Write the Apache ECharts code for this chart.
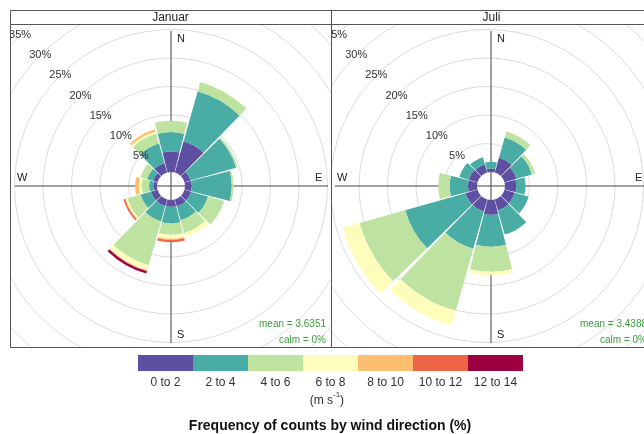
<!DOCTYPE html>
<html><head><meta charset="utf-8">
<script src="https://cdn.jsdelivr.net/npm/echarts@6/dist/echarts.min.js"></script>
<style>html,body{margin:0;padding:0;background:#fff}#c{width:644px;height:434px}</style>
</head><body><div id="c"></div>
<script>
// ---- data ----
const directions = ['N','30','60','E','120','150','S','210','240','W','300','330'];
const speedBins = ['0 to 2','2 to 4','4 to 6','6 to 8','8 to 10','10 to 12','12 to 14'];
const binColors = ['#5E4FA2','#4AADA5','#BEE3A0','#FFFDBC','#FDBF6F','#EE6446','#9E0142'];
const panelTitles = ['Januar','Juli'];
const meanLabels = ['mean = 3.6351','mean = 3.4388'];
const calmLabels = ['calm = 0%','calm = 0%'];
const ringTicks = [5,10,15,20,25,30,35];
const ringLabels = ['5%','10%','15%','20%','25%','30%','35%'];

// January: frequency (%) per direction for each speed class
const jan0to2   = [3.6, 5.7, 1.1, 1.2, 1.2, 1.3, 1.2, 1.2, 1.2, 0.65, 0.8, 1.75];
const jan2to4   = [3.4, 9.1, 8.3, 7.0, 3.1, 2.5, 2.9, 2.8, 1.9, 0.75, 1.1, 3.55];
const jan4to6   = [2.0, 1.7, 0.3, 0.3, 2.9, 2.3, 2.0, 8.0, 2.4, 1.3, 1.2, 1.8];
const jan6to8   = [0, 0.1, 0, 0, 0, 0.7, 0.7, 1.0, 0.3, 0.45, 0, 0.4];
const jan8to10  = [0, 0, 0, 0, 0, 0, 0.2, 0, 0.1, 0.7, 0, 0.4];
const jan10to12 = [0, 0, 0, 0, 0, 0, 0.4, 0.1, 0.3, 0, 0, 0];
const jan12to14 = [0, 0, 0, 0, 0, 0, 0, 0.4, 0, 0, 0, 0];

// Juli
const jul0to2   = [0.6, 2.7, 2.2, 2.0, 1.9, 2.0, 2.6, 2.2, 2.2, 1.6, 1.6, 1.5];
const jul2to4   = [1.2, 3.7, 2.8, 1.6, 2.5, 4.4, 5.6, 6.8, 11.0, 3.2, 1.7, 1.3];
const jul4to6   = [0, 1.1, 0.6, 0, 0, 0, 4.4, 11.3, 8.3, 2.0, 0, 0];
const jul6to8   = [0, 0, 0, 0, 0, 0, 0.6, 2.7, 3.1, 0, 0, 0];
const jul8to10  = [0,0,0,0,0,0,0,0,0,0,0,0];
const jul10to12 = [0,0,0,0,0,0,0,0,0,0,0,0];
const jul12to14 = [0,0,0,0,0,0,0,0,0,0,0,0];

const panelData = [
  [jan0to2, jan2to4, jan4to6, jan6to8, jan8to10, jan10to12, jan12to14],
  [jul0to2, jul2to4, jul4to6, jul6to8, jul8to10, jul10to12, jul12to14]
];

// ---- layout ----
const FONT = '"Liberation Sans", Arial, Helvetica, sans-serif';
const panels = [{cx:171, left:10}, {cx:491, left:331}];
const CY = 186, R_IN = 14, R_OUT = 213.5, R_MAX = 35;
const PW = 321, TOP = 10, STRIP = 24, BOTTOM = 347;

const chart = echarts.init(document.getElementById('c'), null, {renderer:'canvas'});

const polar = panels.map(p => ({center:[p.cx, CY], radius:[R_IN, R_OUT]}));
const angleAxis = panels.map((p,i) => ({
  polarIndex:i, type:'category', data:directions, startAngle:105, clockwise:true,
  boundaryGap:true, axisLine:{show:false}, axisTick:{show:false},
  axisLabel:{show:false}, splitLine:{show:false}
}));
const radiusAxis = panels.map((p,i) => ({
  polarIndex:i, type:'value', min:0, max:R_MAX,
  axisLine:{show:false}, axisTick:{show:false}, axisLabel:{show:false}, splitLine:{show:false}
}));
const grid = panels.map(p => ({left:p.left, top:STRIP, width:PW, height:BOTTOM-STRIP}));
const xAxis = panels.map((p,i) => ({gridIndex:i, type:'value', min:p.left-p.cx, max:p.left+PW-p.cx, show:false}));
const yAxis = panels.map((p,i) => ({gridIndex:i, type:'value', min:-(BOTTOM-CY), max:CY-STRIP, show:false}));

function ringR(v){ return R_IN + (R_OUT-R_IN)*v/R_MAX; }

const series = [];
panels.forEach((p,pi) => {
  series.push({
    type:'custom', xAxisIndex:pi, yAxisIndex:pi, clip:true, z:0, silent:true,
    data: ringTicks.map(v => [v]),
    renderItem:(params, api) => {
      const c = api.coord([0,0]);
      return {type:'circle', shape:{cx:c[0], cy:c[1], r:ringR(api.value(0))},
        style:{fill:null, stroke:'#dcdcdc', lineWidth:1}};
    }
  });
  panelData[pi].forEach((arr,bi) => {
    series.push({
      type:'bar', coordinateSystem:'polar', polarIndex:pi, stack:'p'+pi,
      name:speedBins[bi], data:arr, barCategoryGap:'5%', z:2,
      itemStyle:{color:binColors[bi]}, silent:true
    });
  });
  series.push({
    type:'custom', xAxisIndex:pi, yAxisIndex:pi, clip:true, z:3, silent:true,
    data: ringTicks.map((v,k) => [v,k]),
    renderItem:(params, api) => {
      const c = api.coord([0,0]);
      const r = ringR(api.value(0));
      const d = r*Math.SQRT1_2;
      return {type:'text', style:{x:c[0]-d, y:c[1]-d, text:ringLabels[api.value(1)],
        fill:'#333', font:'11px '+FONT, align:'center', verticalAlign:'middle'}};
    }
  });
});

const graphic = [];
panels.forEach((p,pi) => {
  const cx = p.cx;
  graphic.push({type:'line', z:1, shape:{x1:cx, y1:31, x2:cx, y2:343}, style:{stroke:'#444', lineWidth:1}});
  graphic.push({type:'line', z:1, shape:{x1:cx-156, y1:CY, x2:cx+157, y2:CY}, style:{stroke:'#444', lineWidth:1}});
  const tf = '11px '+FONT;
  graphic.push({type:'text', z:4, style:{x:cx+6, y:39, text:'N', font:tf, fill:'#222', verticalAlign:'middle'}});
  graphic.push({type:'text', z:4, style:{x:cx+144, y:178, text:'E', font:tf, fill:'#222', verticalAlign:'middle'}});
  graphic.push({type:'text', z:4, style:{x:cx+6, y:335, text:'S', font:tf, fill:'#222', verticalAlign:'middle'}});
  graphic.push({type:'text', z:4, style:{x:cx-154, y:178, text:'W', font:tf, fill:'#222', verticalAlign:'middle'}});
  graphic.push({type:'text', z:4, style:{x:p.left+PW-5, y:324, text:meanLabels[pi], font:'10px '+FONT, fill:'#3a9e3a', align:'right', verticalAlign:'middle'}});
  graphic.push({type:'text', z:4, style:{x:p.left+PW-5, y:340, text:calmLabels[pi], font:'10px '+FONT, fill:'#3a9e3a', align:'right', verticalAlign:'middle'}});
  graphic.push({type:'rect', z:10, shape:{x:p.left+0.5, y:TOP+0.5, width:PW, height:BOTTOM-TOP}, style:{fill:null, stroke:'#555', lineWidth:1}});
  graphic.push({type:'line', z:10, shape:{x1:p.left, y1:STRIP+0.5, x2:p.left+PW, y2:STRIP+0.5}, style:{stroke:'#555', lineWidth:1}});
  graphic.push({type:'text', z:10, style:{x:p.left+PW/2, y:17.5, text:panelTitles[pi], font:'12px '+FONT, fill:'#222', align:'center', verticalAlign:'middle'}});
});
// colour key
const KX = 138, KW = 55, KY = 355, KH = 16;
speedBins.forEach((lab,i) => {
  graphic.push({type:'rect', z:5, shape:{x:KX+i*KW, y:KY, width:KW, height:KH}, style:{fill:binColors[i]}});
  graphic.push({type:'text', z:5, style:{x:KX+i*KW+KW/2, y:383, text:lab, font:'12px '+FONT, fill:'#333', align:'center', verticalAlign:'middle'}});
});
graphic.push({type:'text', z:5, style:{x:333, y:401, text:'(m s', font:'12px '+FONT, fill:'#333', align:'right', verticalAlign:'middle'}});
graphic.push({type:'text', z:5, style:{x:333, y:395, text:'-1', font:'8px '+FONT, fill:'#333', align:'left', verticalAlign:'middle'}});
graphic.push({type:'text', z:5, style:{x:340, y:401, text:')', font:'12px '+FONT, fill:'#333', align:'left', verticalAlign:'middle'}});
graphic.push({type:'text', z:5, style:{x:330, y:426, text:'Frequency of counts by wind direction (%)', font:'bold 14px '+FONT, fill:'#111', align:'center', verticalAlign:'middle'}});

chart.setOption({
  animation:false, backgroundColor:'#fff',
  polar, angleAxis, radiusAxis, grid, xAxis, yAxis, series, graphic
});
</script></body></html>
